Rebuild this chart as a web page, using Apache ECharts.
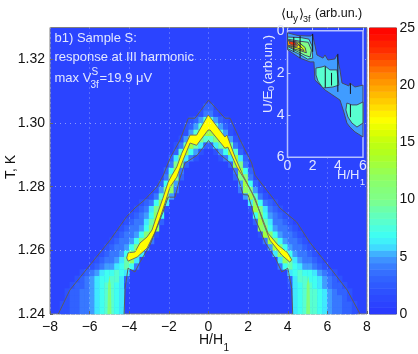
<!DOCTYPE html>
<html lang="en">
<head>
<meta charset="UTF-8">
<title>response at III harmonic</title>
<style>
html, body { margin: 0; background: #fff; }
#chart { width: 418px; height: 354px; }
</style>
</head>
<body>
<div id="chart"></div>
<script src="https://cdn.jsdelivr.net/npm/echarts@6/dist/echarts.min.js"></script>
<script>
// colour per integer value 0..25
var colorStops = ['#2a38ff', '#2b44ff', '#2d52ff', '#3162ff', '#3878ff', '#409cff', '#40e8ff', '#40fff0', '#58ffd0', '#68ffb0',
    '#80ff88', '#85ff78', '#90ff60', '#a0ff40', '#b0ff20', '#c0ff10', '#e0ff00', '#ffff00', '#ffe000', '#ffc000',
    '#ffa000', '#ff8000', '#ff5500', '#ff3000', '#ff1500', '#ff0000'];
var colorbarLevels = [0.28, 0.83, 1.39, 1.94, 2.5, 3.06, 3.61, 4.17, 4.72, 5.28, 5.83, 6.39, 6.94, 7.5, 8.06, 8.61, 9.17, 9.72,
    10.28, 10.83, 11.39, 11.94, 12.5, 13.06, 13.61, 14.17, 14.72, 15.28, 15.83, 16.39, 16.94, 17.5, 18.06, 18.61, 19.17, 19.72,
    20.28, 20.83, 21.39, 21.94, 22.5, 23.06, 23.61, 24.17, 24.72];

// main map: H = -8..8 in 64 columns, T = 1.24..1.33 in 45 rows. Each row: [first column, values...], rest is background
var heatLeft = [
    [2, 2, 2, 3, 3, 4, 4, 5, 6, 7, 8, 8, 7, 6],
    [2, 2, 2, 3, 3, 4, 4, 5, 6, 7, 8, 8, 7, 6],
    [3, 2, 3, 3, 4, 4, 5, 6, 7, 8, 8, 7, 6],
    [3, 2, 3, 3, 4, 4, 5, 6, 7, 8, 8, 7, 6],
    [4, 2, 3, 3, 4, 5, 6, 7, 8, 8, 7, 6, 2],
    [5, 2, 3, 4, 5, 6, 7, 7, 8, 8, 6, 3],
    [6, 2, 3, 4, 5, 6, 7, 7, 8, 7, 6],
    [8, 2, 3, 4, 5, 5, 6, 7, 9, 7, 4],
    [9, 2, 3, 4, 4, 5, 6, 9, 12, 6],
    [10, 2, 3, 4, 4, 5, 7, 11, 12, 6],
    [11, 2, 3, 4, 4, 5, 7, 10, 13, 5],
    [12, 2, 3, 4, 4, 5, 7, 11, 13, 4],
    [13, 2, 3, 4, 4, 5, 7, 11, 13, 2],
    [14, 2, 3, 4, 4, 5, 7, 11, 12],
    [15, 2, 3, 4, 4, 6, 9, 13, 3],
    [16, 2, 3, 4, 5, 7, 12, 7],
    [17, 2, 3, 4, 6, 10, 13, 2],
    [18, 2, 3, 4, 7, 12, 6],
    [20, 2, 4, 8, 13, 5],
    [21, 2, 5, 10, 12, 4],
    [22, 3, 7, 13, 5],
    [23, 4, 11, 10, 3],
    [23, 3, 7, 13, 4],
    [24, 4, 10, 12, 3],
    [24, 3, 6, 13, 6, 4, 2],
    [25, 3, 8, 13, 7, 5, 2],
    [25, 2, 4, 9, 13, 9, 6, 3],
    [26, 2, 5, 12, 13, 11, 8],
    [27, 2, 5, 8, 13, 13],
    [27, 2, 3, 5, 8, 13],
    [28, 2, 3, 5, 8],
    [30, 2, 4],
    [31, 3]
];
var heatRight = [
    [49, 6, 7, 8, 8, 8, 7, 6, 5, 4, 4, 3, 3, 2],
    [49, 6, 7, 8, 8, 8, 7, 6, 5, 4, 4, 3, 3, 2],
    [49, 6, 7, 8, 8, 8, 7, 6, 5, 4, 4, 3, 2],
    [49, 6, 7, 8, 8, 8, 7, 6, 5, 4, 3, 3, 2],
    [48, 2, 6, 7, 8, 8, 7, 6, 5, 4, 3, 3, 2],
    [48, 3, 6, 8, 8, 7, 7, 6, 5, 4, 3, 2],
    [48, 6, 7, 8, 7, 7, 6, 5, 4, 3, 2],
    [46, 4, 7, 9, 7, 6, 5, 5, 4, 3, 2],
    [46, 6, 12, 9, 6, 5, 4, 4, 3, 2],
    [45, 6, 12, 11, 7, 5, 4, 4, 3, 2],
    [44, 5, 13, 10, 7, 5, 4, 4, 3, 2],
    [43, 4, 13, 11, 7, 5, 4, 4, 3, 2],
    [42, 2, 13, 11, 7, 5, 4, 4, 3, 2],
    [42, 12, 11, 7, 5, 4, 4, 3, 2],
    [41, 3, 13, 9, 6, 4, 4, 3, 2],
    [41, 7, 12, 7, 5, 4, 3, 2],
    [40, 2, 13, 10, 6, 4, 3, 2],
    [40, 6, 12, 7, 4, 3, 2],
    [39, 5, 13, 8, 4, 2],
    [38, 4, 12, 10, 5, 2],
    [38, 5, 13, 7, 3],
    [37, 3, 10, 11, 4],
    [37, 4, 13, 7, 3],
    [36, 3, 12, 10, 4],
    [34, 2, 4, 6, 13, 6, 3],
    [33, 2, 5, 7, 13, 8, 3],
    [32, 3, 6, 9, 13, 9, 4, 2],
    [32, 8, 11, 13, 12, 5, 2],
    [32, 13, 13, 8, 5, 2],
    [32, 13, 8, 5, 3, 2],
    [32, 8, 5, 3, 2],
    [32, 4, 2],
    [32, 3]
];

// contours of the main map, [H, T]
var outerContour = [[-7.58, 1.24], [-7, 1.2475], [-5.98, 1.2554], [-4.97, 1.2632], [-4.13, 1.2706], [-3.71, 1.2733], [-3.2, 1.276],
    [-2.6, 1.28], [-2.28, 1.2836], [-1.94, 1.289], [-1.44, 1.2946], [-1.02, 1.3015], [-0.68, 1.3015], [0, 1.3072],
    [0.83, 1.3015], [1.09, 1.3015], [1.6, 1.2946], [2.18, 1.2874], [2.35, 1.2836], [3.25, 1.2764], [3.6, 1.2733],
    [4.45, 1.2689], [5.1, 1.2626], [6.3, 1.2532], [7, 1.2475], [7.65, 1.24]];
var lowerContour = [[-4.26, 1.24], [-4.21, 1.248], [-4.06, 1.2544], [-3.71, 1.2532], [-3.46, 1.2563], [-2.95, 1.2617], [-2.55, 1.268],
    [-2.3, 1.272], [-2.04, 1.2767], [-1.69, 1.2767], [-1.44, 1.2827], [-1.19, 1.2874], [-0.57, 1.2899], [0, 1.2945],
    [0.6, 1.29], [1.1, 1.2875], [1.5, 1.2825], [1.75, 1.2775], [2, 1.2774], [2.35, 1.27], [2.87, 1.2623], [3.37, 1.2576],
    [3.7, 1.2532], [4, 1.2544], [4.2, 1.248], [4.25, 1.24]];
var ridgeUpper = [[-4.13, 1.2576], [-4.06, 1.2592], [-3.71, 1.2595], [-3.46, 1.2623], [-3.1, 1.2642], [-2.85, 1.2664], [-2.6, 1.2711],
    [-2.3, 1.2764], [-2.04, 1.2814], [-1.85, 1.2836], [-1.6, 1.2862], [-1.35, 1.2905], [-0.93, 1.2962], [-0.6, 1.2962], [-0.02, 1.3025],
    [0.08, 1.3018], [0.83, 1.2956], [0.93, 1.2962], [1.34, 1.2893], [1.74, 1.2836], [2.2, 1.278], [2.6, 1.272], [3, 1.2654],
    [3.5, 1.2617], [4, 1.2592], [4.2, 1.257]];
var ridgeLower = [[-4.06, 1.2566], [-3.6, 1.2579], [-3.1, 1.2607], [-2.7, 1.2657], [-2.45, 1.2701], [-2.2, 1.2748], [-1.94, 1.2799],
    [-1.6, 1.283], [-1.28, 1.2884], [-0.93, 1.2937], [-0.6, 1.293], [-0.02, 1.2978], [0.08, 1.2978], [0.83, 1.2921], [0.98, 1.2924],
    [1.43, 1.2862], [1.85, 1.282], [2.35, 1.2764], [2.75, 1.2689], [3.1, 1.2632], [3.7, 1.2585], [4.1, 1.2563]];
// narrow green stripes at |H| = 5
var stripes = [
    [[-5.1, 1.24], [-4.9, 1.24], [-4.93, 1.249], [-5, 1.252], [-5.07, 1.249]],
    [[4.93, 1.24], [5.13, 1.24], [5.1, 1.249], [5.03, 1.252], [4.96, 1.249]]
];

// inset regions, [H, U], with the level each is filled at
var insetLevels = [5, 8, 8, 8, 10, 15, 17, 20, 23];
var insetRegions = [
    [[0, 0.1], [0.83, 0.23], [1.55, 0.25], [1.87, 0.25], [1.98, 0.16], [2.18, 0.68], [2.34, 1.15], [2.82, 1.3], [2.98, 1.15], [3.21, 1.39],
     [3.77, 1.34], [3.93, 1.15], [4.17, 1.86], [4.33, 2.48], [4.88, 2.62], [4.96, 2.48], [5.36, 2.67], [6, 2.58], [6, 5.04], [5.36, 4.8],
     [4.96, 4.57], [4.72, 4.38], [4.48, 3.86], [4.17, 3.29], [3.93, 3.19], [2.98, 2.81], [2.18, 2.34], [2.1, 1.48], [1.79, 1.48], [0.99, 1.3], [0, 0.9]],
    [[0, 0.3], [1.1, 0.33], [1.7, 0.4], [1.95, 0.73], [2, 1.3], [1.6, 1.35], [0.9, 1.1], [0, 0.85]],
    [[2.26, 1.77], [2.74, 1.72], [2.98, 1.67], [3.37, 1.86], [3.93, 1.86], [4.09, 2.58], [3.61, 2.67], [2.82, 2.72], [2.42, 2.39], [2.26, 2.1]],
    [[4.72, 3.43], [5.12, 3.52], [5.52, 3.52], [6, 3.38], [6, 4.38], [5.52, 4.57], [5.12, 4.38], [4.8, 4.09], [4.64, 3.76]],
    [[0, 0.4], [1, 0.5], [1.65, 0.55], [1.9, 0.92], [1.8, 1.25], [1.4, 1.17], [0.9, 1.02], [0, 0.75]],
    [[0, 0.45], [0.9, 0.55], [1.4, 0.8], [1.5, 1.05], [1.05, 0.95], [0.6, 0.88], [0, 0.72]],
    [[0, 0.48], [0.7, 0.55], [1.2, 0.85], [1.3, 0.95], [0.8, 0.82], [0, 0.7]],
    [[0, 0.48], [0.6, 0.55], [0.85, 0.72], [0.5, 0.75], [0, 0.68]],
    [[0.2, 0.5], [0.6, 0.55], [0.7, 0.68], [0.35, 0.68], [0.15, 0.6]]
];
var insetSpikes = [
    [[0.5, 0.3], [0.5, 1]], [[1, 0.25], [1, 1.3]], [[2, 0.15], [2, 1]], [[3, 1.7], [3, 2.7]], [[3.5, 2], [3.5, 2.6]],
    [[4, 1.1], [4, 2.9]], [[5, 2.5], [5, 3]], [[5, 3.5], [5, 4.1]]
];

var xCats = [], yCats = [], heatData = [], colorbarData = [];
for (var i = 0; i < 64; i++) xCats.push(i);
for (var i = 0; i < 45; i++) yCats.push(i);
function addSpans(spans) {
    spans.forEach(function (row, r) {
        for (var k = 1; k < row.length; k++) heatData.push([row[0] + k - 1, r, row[k]]);
    });
}
addSpans(heatLeft);
addSpans(heatRight);
colorbarLevels.forEach(function (v, i) { colorbarData.push([0, i, v]); });

var FONT = '"Liberation Sans", Arial, sans-serif';
var LIGHT = '#e2e7ff';

function polyItems(list) {
    return list.map(function (p, i) { return [i, 0]; });
}

function labelText(x, y, text, size, color, rot) {
    var el = { type: 'text', x: x, y: y, z: 30, silent: true,
        style: { text: text, fill: color, font: size + 'px ' + FONT, textAlign: 'left', textVerticalAlign: 'middle' } };
    if (rot) el.rotation = rot;
    return el;
}

var myChart = echarts.init(document.getElementById('chart'), null, { renderer: 'canvas' });
var option = {
    animation: false,
    textStyle: { fontFamily: FONT },
    grid: [
        { left: 50, top: 27.5, width: 317, height: 286.5, show: true, backgroundColor: colorStops[1], borderColor: '#808080', borderWidth: 1 },
        { left: 287.5, top: 30.7, width: 75.5, height: 126.5, show: true, backgroundColor: colorStops[1], borderColor: '#b4c0ff', borderWidth: 1.5, z: 10 },
        { left: 369.5, top: 28, width: 27, height: 286, show: true, borderColor: '#555', borderWidth: 1 }
    ],
    xAxis: [
        { type: 'category', gridIndex: 0, data: xCats, show: false },
        { type: 'value', gridIndex: 0, position: 'bottom', min: -8, max: 8, interval: 2, z: 3,
          axisLine: { show: false }, axisTick: { inside: true, length: 3, lineStyle: { color: '#666' } },
          axisLabel: { color: '#111', fontSize: 14, margin: 6, formatter: function (v) { return String(v).replace('-', '\u2212'); } },
          splitLine: { show: true, lineStyle: { color: 'rgba(255,255,255,0.45)', type: [1, 4], width: 1 } } },
        { type: 'value', gridIndex: 1, position: 'bottom', min: 0, max: 6, interval: 2, z: 11,
          axisLine: { show: false }, axisTick: { inside: true, length: 3, lineStyle: { color: '#b4c0ff' } },
          axisLabel: { color: LIGHT, fontSize: 14, margin: 2 }, splitLine: { show: false } },
        { type: 'category', gridIndex: 2, data: [0], show: false }
    ],
    yAxis: [
        { type: 'category', gridIndex: 0, data: yCats, show: false },
        { type: 'value', gridIndex: 0, position: 'left', min: 1.24, max: 1.33, interval: 0.02, z: 3,
          axisLine: { show: false }, axisTick: { inside: true, length: 3, lineStyle: { color: '#666' } },
          axisLabel: { color: '#111', fontSize: 14, margin: 5, showMaxLabel: false, formatter: function (v) { return v.toFixed(2); } },
          splitLine: { show: true, showMaxLine: false, lineStyle: { color: 'rgba(255,255,255,0.45)', type: [1, 4], width: 1 } } },
        { type: 'value', gridIndex: 1, position: 'left', min: 0, max: 6, interval: 2, inverse: true, z: 11,
          axisLine: { show: false }, axisTick: { inside: true, length: 3, lineStyle: { color: '#b4c0ff' } },
          axisLabel: { color: LIGHT, fontSize: 14, margin: 3 }, splitLine: { show: false } },
        { type: 'category', gridIndex: 2, data: yCats, show: false },
        { type: 'value', gridIndex: 2, min: 0, max: 25, interval: 5, position: 'right', z: 3,
          axisLine: { show: false }, axisTick: { inside: true, length: 3, lineStyle: { color: '#777' } },
          axisLabel: { color: '#111', fontSize: 14, margin: 3 }, splitLine: { show: false } },
        { type: 'value', gridIndex: 2, min: 0, max: 25, interval: 5, position: 'left', z: 3,
          axisLine: { show: false }, axisTick: { inside: true, length: 3, lineStyle: { color: '#777' } },
          axisLabel: { show: false }, splitLine: { show: false } }
    ],
    visualMap: { show: false, type: 'continuous', min: 0, max: 25, seriesIndex: [0, 1], inRange: { color: colorStops } },
    series: [
        { type: 'heatmap', xAxisIndex: 0, yAxisIndex: 0, data: heatData, progressive: 0, silent: true },
        { type: 'heatmap', xAxisIndex: 3, yAxisIndex: 3, data: colorbarData, progressive: 0, silent: true },
        { type: 'custom', xAxisIndex: 1, yAxisIndex: 1, z: 2, silent: true, data: polyItems(stripes),
          renderItem: function (params, api) {
              var pts = stripes[params.dataIndex].map(function (p) { return api.coord(p); });
              return { type: 'polygon', shape: { points: pts }, style: { fill: colorStops[12], opacity: 0.75 } };
          } },
        { type: 'custom', xAxisIndex: 1, yAxisIndex: 1, z: 2, silent: true, data: [[0, 1.25]],
          renderItem: function (params, api) {
              var pts = ridgeUpper.concat(ridgeLower.slice().reverse()).map(function (p) { return api.coord(p); });
              return { type: 'polygon', shape: { points: pts }, style: { fill: colorStops[17], stroke: '#747458', lineWidth: 1 } };
          } },
        { type: 'line', xAxisIndex: 1, yAxisIndex: 1, z: 2, data: outerContour, symbol: 'none', silent: true, lineStyle: { color: '#5c5c5c', width: 1 } },
        { type: 'line', xAxisIndex: 1, yAxisIndex: 1, z: 2, data: lowerContour, symbol: 'none', silent: true, lineStyle: { color: '#5c5c5c', width: 1 } },
        { type: 'custom', xAxisIndex: 2, yAxisIndex: 2, z: 12, silent: true, data: polyItems(insetRegions),
          renderItem: function (params, api) {
              var pts = insetRegions[params.dataIndex].map(function (p) { return api.coord(p); });
              return { type: 'polygon', shape: { points: pts }, style: { fill: colorStops[insetLevels[params.dataIndex]], stroke: '#454a66', lineWidth: 1 } };
          } },
        { type: 'custom', xAxisIndex: 2, yAxisIndex: 2, z: 13, silent: true, data: polyItems(insetSpikes),
          renderItem: function (params, api) {
              var pts = insetSpikes[params.dataIndex].map(function (p) { return api.coord(p); });
              return { type: 'polyline', shape: { points: pts }, style: { fill: null, stroke: '#14141e', lineWidth: 1 } };
          } }
    ],
    graphic: [
        labelText(54.5, 38, 'b1) Sample S:', 13, LIGHT),
        labelText(54.5, 57, 'response at III harmonic', 13, LIGHT),
        labelText(54.5, 78, 'max V', 13, LIGHT),
        labelText(91.5, 72, 'S', 10, LIGHT),
        labelText(90.5, 85, '3f', 10, LIGHT),
        labelText(99.5, 78, '=19.9 \u03bcV', 13, LIGHT),
        labelText(281, 14, '\u27e8u', 13, '#111'),
        labelText(293, 19, 'y', 10, '#111'),
        labelText(299, 14, '\u27e9', 13, '#111'),
        labelText(303, 20, '3f', 9, '#111'),
        labelText(315, 14, '(arb.un.)', 12.5, '#111'),
        labelText(268, 113, 'U/E', 13.5, LIGHT, Math.PI / 2),
        labelText(272, 91, '0', 9, LIGHT, Math.PI / 2),
        labelText(268, 84, '(arb.un.)', 13, LIGHT, Math.PI / 2),
        labelText(337, 175, 'H/H', 13, LIGHT),
        labelText(360, 183, '1', 9, LIGHT),
        labelText(11, 179, 'T, K', 14, '#111', Math.PI / 2),
        labelText(199, 340, 'H/H', 14, '#111'),
        labelText(223.5, 348, '1', 10, '#111')
    ]
};
myChart.setOption(option);
</script>
</body>
</html>
